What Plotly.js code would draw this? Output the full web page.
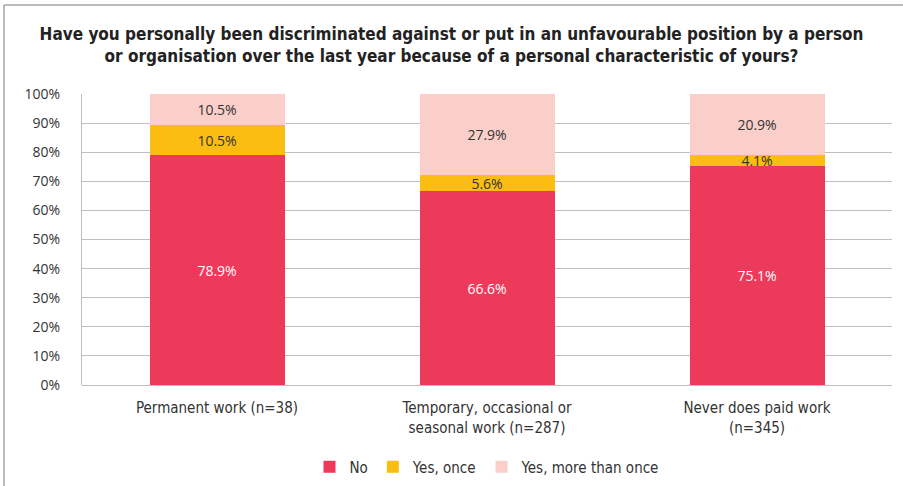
<!DOCTYPE html>
<html><head><meta charset="utf-8">
<script src="https://cdn.plot.ly/plotly-3.0.1.min.js"></script>
<style>html,body{margin:0;padding:0;background:#fff}#chart{width:903px;height:486px}</style>
</head><body><div id="chart"></div>
<script>
const categories = ["Permanent work (n=38)", "Temporary, occasional or<br>seasonal work (n=287)", "Never does paid work<br>(n=345)"];
const seriesNames = ["No", "Yes, once", "Yes, more than once"];
const noValues = [78.9, 66.6, 75.1];
const onceValues = [10.5, 5.6, 4.1];
const moreValues = [10.5, 27.9, 20.9];
const colors = ["#EE3A5A", "#FBBD12", "#FACFC9"];
const textColors = ["#FFFFFF", "#333333", "#333333"];
const yTicks = [0,10,20,30,40,50,60,70,80,90,100];

const allValues = [noValues, onceValues, moreValues];
const traces = allValues.map((vals, i) => ({
  type: 'bar',
  name: seriesNames[i],
  x: categories,
  y: vals,
  marker: {color: colors[i], line: {width: 0}},
  text: vals.map(v => v.toFixed(1) + '%'),
  textposition: 'inside',
  insidetextanchor: 'middle',
  textangle: 0,
  textfont: {family: 'Open Sans, sans-serif', size: 14, color: textColors[i]},
  hoverinfo: 'skip'
}));

const layout = {
  width: 903, height: 486,
  margin: {l: 82, r: 11, t: 94, b: 101, autoexpand: false},
  paper_bgcolor: '#fff', plot_bgcolor: '#fff',
  barmode: 'stack',
  bargap: 0.5,
  uniformtext: {mode: 'show', minsize: 14},
  title: {
    text: '<b>Have you personally been discriminated against or put in an unfavourable position by a person<br>or organisation over the last year because of a personal characteristic of yours?</b>',
    font: {family: 'DejaVu Sans Condensed, sans-serif', size: 17, color: '#222'},
    x: 0.5, xanchor: 'center', y: 0.918, yanchor: 'top'
  },
  xaxis: {
    tickfont: {family: 'DejaVu Sans Condensed, sans-serif', size: 15, color: '#333'},
    showgrid: false, showline: false, zeroline: false, ticks: '',
    ticklabelstandoff: 12, automargin: false
  },
  yaxis: {
    range: [0, 100], tickvals: yTicks, ticktext: yTicks.map(v => v + '%'),
    tickfont: {family: 'Open Sans, sans-serif', size: 14, color: '#333'},
    showgrid: true, gridcolor: '#BFBFBF', gridwidth: 1,
    showline: true, linecolor: '#BFBFBF', linewidth: 1,
    zeroline: true, zerolinecolor: '#BFBFBF', zerolinewidth: 1,
    ticks: '', ticklabelstandoff: 18, fixedrange: true, automargin: false
  },
  legend: {
    orientation: 'h', x: 0.5, xanchor: 'center', y: -0.282, yanchor: 'middle',
    font: {family: 'DejaVu Sans Condensed, sans-serif', size: 15, color: '#333'},
    itemwidth: 30, traceorder: 'normal'
  },
  showlegend: true,
  shapes: [
    {type: 'line', xref: 'paper', yref: 'paper', x0: (4-82)/810, x1: (4-82)/810, y0: -101/291, y1: (291+89)/291, line: {color: '#A6A6A6', width: 1.5}},
    {type: 'line', xref: 'paper', yref: 'paper', x0: (4-82)/810, x1: 1.02, y0: (291+89)/291, y1: (291+89)/291, line: {color: '#A6A6A6', width: 1.5}}
  ]
};

Plotly.newPlot('chart', traces, layout, {displayModeBar: false, staticPlot: true});
</script></body></html>
